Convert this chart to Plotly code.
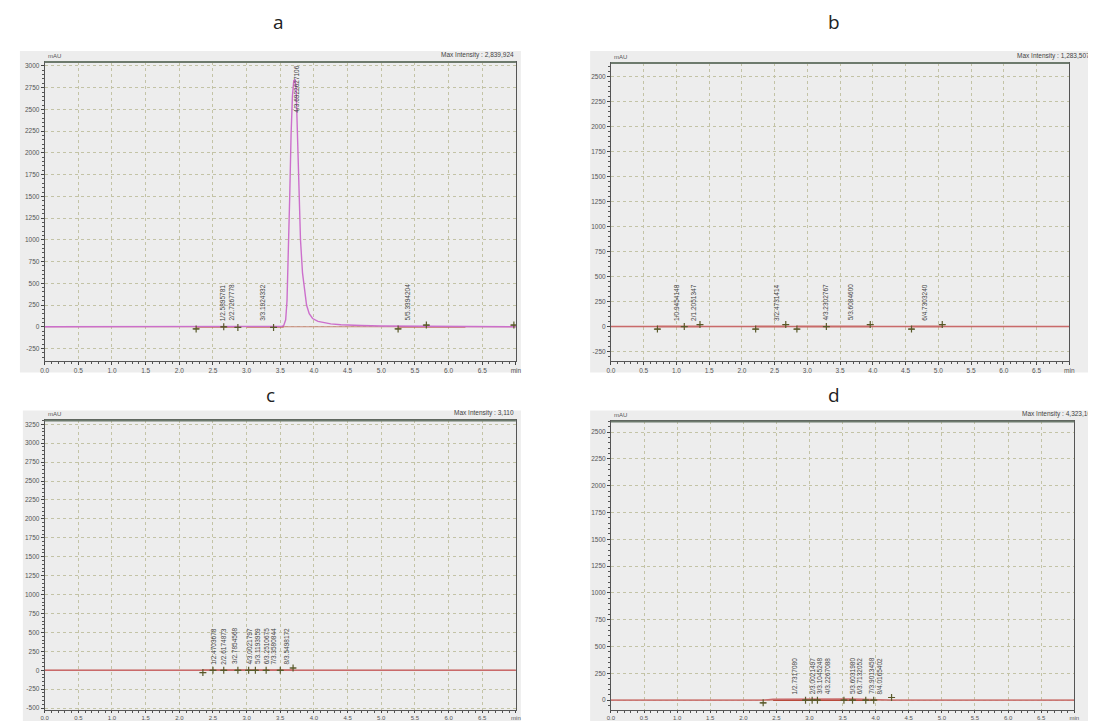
import plotly.graph_objects as go

# ---------------- data ----------------
# panel a
a_time = [0.0, 2.2, 2.6, 3.0, 3.4, 3.52, 3.55, 3.58, 3.60, 3.62, 3.64, 3.66, 3.68, 3.70, 3.72, 3.735,
          3.75, 3.77, 3.80, 3.83, 3.86, 3.89, 3.93, 3.98, 4.06, 4.15, 4.25, 4.40, 4.55, 4.70, 5.0,
          5.5, 6.0, 6.25, 7.0]
a_signal = [0, 0, 1, 2, 3, 5, 12, 80, 300, 800, 1500, 2200, 2650, 2830, 2840, 2750,
            2300, 1700, 1000, 620, 400, 250, 150, 95, 62, 45, 33, 24, 18, 14, 9,
            5, 3, 2, 0]
a_peak_rt = [2.5895781, 2.7267778, 3.1924332, 5.3394204]
a_peak_text = ["1/2.5895781", "2/2.7267778", "3/3.1924332", "5/5.3394204"]
a_top_rt = [3.6922627]
a_top_text = ["4/3.6922627106"]
a_mark_t = [2.25, 2.66, 2.87, 3.40, 5.25, 5.67, 6.97]
a_mark_y = [-25, 0, -8, -8, -25, 20, 20]
a_seg_start = [2.25, 3.0, 5.25]
a_seg_end = [2.87, 3.55, 6.25]

# panel b
b_time = [0.0, 0.7, 1.0, 1.4, 2.2, 2.5, 2.9, 3.3, 3.6, 4.0, 4.6, 4.75, 5.1, 7.0]
b_signal = [0, 0, 4, 1, 0, 5, 2, 6, 4, 1, 0, 4, 1, 0]
b_peak_rt = [0.9454148, 1.2051347, 2.4731414, 3.2302767, 3.6084600, 4.7303240]
b_peak_text = ["1/0.9454148", "2/1.2051347", "3/2.4731414", "4/3.2302767", "5/3.6084600", "6/4.7303240"]
b_mark_t = [0.71, 1.12, 1.36, 2.21, 2.67, 2.84, 3.29, 3.96, 4.59, 5.06]
b_mark_y = [-25, 0, 20, -25, 20, -25, 0, 20, -25, 20]
b_seg_start = [0.71, 2.21, 2.84, 4.59]
b_seg_end = [1.36, 2.67, 3.96, 5.06]

# panel c
c_time = [0.0, 2.35, 2.5, 2.7, 2.9, 3.1, 3.3, 3.5, 3.7, 7.0]
c_signal = [0, 0, 3, 2, 3, 2, 3, 2, 0, 0]
c_peak_rt = [2.4703678, 2.6174873, 2.7854568, 3.0021797, 3.1193959, 3.2510675, 3.3580844, 3.5498172]
c_peak_text = ["1/2.4703678", "2/2.6174873", "3/2.7854568", "4/3.0021797",
               "5/3.1193959", "6/3.2510675", "7/3.3580844", "8/3.5498172"]
c_mark_t = [2.35, 2.50, 2.66, 2.87, 3.03, 3.13, 3.29, 3.50, 3.69]
c_mark_y = [-30, 0, 0, 0, 0, 0, 0, 0, 30]
c_seg_start = [2.35]
c_seg_end = [3.69]

# panel d
d_time = [0.0, 2.3, 2.45, 2.8, 3.1, 3.3, 3.6, 3.8, 4.0, 4.25, 7.0]
d_signal = [0, 0, 8, 10, 12, 10, 11, 9, 8, 0, 0]
d_peak_rt = [2.7317080, 3.0021497, 3.1045248, 3.2267088, 3.6031980, 3.7132052, 3.9013458, 4.0165402]
d_peak_text = ["1/2.7317080", "2/3.0021497", "3/3.1045248", "4/3.2267088",
               "5/3.6031980", "6/3.7132052", "7/3.9013458", "8/4.0165402"]
d_mark_t = [2.30, 2.94, 3.04, 3.12, 3.52, 3.65, 3.85, 3.97, 4.24]
d_mark_y = [-25, 0, 0, 0, 0, 0, 0, 0, 25]
d_seg_start = [2.45]
d_seg_end = [4.00]

x_tickvals = [0.0, 0.5, 1.0, 1.5, 2.0, 2.5, 3.0, 3.5, 4.0, 4.5, 5.0, 5.5, 6.0, 6.5, 7.0]
x_ticktext = ["0.0", "0.5", "1.0", "1.5", "2.0", "2.5", "3.0", "3.5", "4.0", "4.5", "5.0", "5.5", "6.0", "6.5", "min"]
a_yticks = [-250, 0, 250, 500, 750, 1000, 1250, 1500, 1750, 2000, 2250, 2500, 2750, 3000]
b_yticks = [-250, 0, 250, 500, 750, 1000, 1250, 1500, 1750, 2000, 2250, 2500]
c_yticks = [-500, -250, 0, 250, 500, 750, 1000, 1250, 1500, 1750, 2000, 2250, 2500, 2750, 3000, 3250]
d_yticks = [0, 250, 500, 750, 1000, 1250, 1500, 1750, 2000, 2250, 2500]

panel_titles = ["a", "b", "c", "d"]
max_texts = ["Max Intensity : 2,839,924", "Max Intensity : 1,283,507",
             "Max Intensity : 3,110", "Max Intensity : 4,323,108"]

# ---------------- layout geometry (pixels) ----------------
W, H = 1096, 721


def px_x(p):
    return p / W


def px_y(p):
    return 1 - p / H


panels = [
    dict(l=32, r=508, t=54, b=353, yr=[-388, 3046], box=(7, 513, 43, 365), yt=a_yticks, title=(268, 14)),
    dict(l=604, r=1067, t=55, b=353, yr=[-340, 2640], box=(583, 1110, 43, 365), yt=b_yticks, title=(829, 14)),
    dict(l=32, r=508, t=413, b=703, yr=[-525, 3301], box=(10, 513, 403, 730), yt=c_yticks, title=(260, 388)),
    dict(l=604, r=1072, t=414, b=703, yr=[-92, 2600], box=(583, 1110, 403, 730), yt=d_yticks, title=(829, 388)),
]

data_sets = [
    (a_time, a_signal, a_peak_rt, a_peak_text, a_mark_t, a_mark_y, a_seg_start, a_seg_end),
    (b_time, b_signal, b_peak_rt, b_peak_text, b_mark_t, b_mark_y, b_seg_start, b_seg_end),
    (c_time, c_signal, c_peak_rt, c_peak_text, c_mark_t, c_mark_y, c_seg_start, c_seg_end),
    (d_time, d_signal, d_peak_rt, d_peak_text, d_mark_t, d_mark_y, d_seg_start, d_seg_end),
]

fig = go.Figure()
shapes = []
annotations = []
layout = {}

FONT = "Liberation Sans, Arial, sans-serif"

for i, (p, ds) in enumerate(zip(panels, data_sets)):
    n = "" if i == 0 else str(i + 1)
    xa, ya = "x" + n, "y" + n
    t, s, prt, ptxt, mt, my, ss, se = ds
    bottom_row = i >= 2
    tick_font = dict(family=FONT, size=6 if bottom_row else 6.5, color="#555555")

    # outer grey frame
    bl, br, bt, bb = p["box"]
    shapes.append(dict(type="rect", xref="paper", yref="paper", layer="below",
                       x0=px_x(bl), x1=px_x(br), y0=px_y(bb), y1=px_y(bt),
                       fillcolor="#ededed", line=dict(width=0)))
    # darker top border of plot area
    shapes.append(dict(type="line", xref="paper", yref="paper",
                       x0=px_x(p["l"]), x1=px_x(p["r"]), y0=px_y(p["t"]), y1=px_y(p["t"]),
                       line=dict(color="#6d7a6d", width=2)))

    layout["xaxis" + n] = dict(
        domain=[px_x(p["l"]), px_x(p["r"])], anchor=ya, range=[0, 7.0],
        tickvals=x_tickvals, ticktext=x_ticktext, ticks="outside",
        ticklen=2 if bottom_row else 3, ticklabelstandoff=0 if bottom_row else 1,
        tickcolor="#444", tickfont=tick_font, showline=True, linecolor="#555", linewidth=1,
        mirror=True, showgrid=True, gridcolor="#c3c3a6", griddash="dot", gridwidth=1,
        zeroline=False, fixedrange=True,
        minor=dict(dtick=0.1, ticks="outside", ticklen=2, tickcolor="#555", showgrid=False),
    )
    layout["yaxis" + n] = dict(
        domain=[px_y(p["b"]), px_y(p["t"])], anchor=xa, range=p["yr"],
        tickvals=p["yt"], ticktext=[str(v) for v in p["yt"]], ticks="outside", ticklen=3,
        tickcolor="#444", tickfont=dict(family=FONT, size=6.5, color="#555555"),
        showline=True, linecolor="#555", linewidth=1,
        mirror=True, showgrid=True, gridcolor="#c3c3a6", griddash="dot", gridwidth=1,
        zeroline=False, fixedrange=True,
        minor=dict(dtick=50, ticks="outside", ticklen=2, tickcolor="#555", showgrid=False),
    )

    # zero baseline across full width
    fig.add_trace(go.Scatter(x=[0, 7.0], y=[0, 0], mode="lines", xaxis=xa, yaxis=ya,
                             line=dict(color="#c98a7a", width=1), hoverinfo="skip", showlegend=False))
    # integration baselines
    segx, segy = [], []
    for a0, a1 in zip(ss, se):
        segx += [a0, a1, None]
        segy += [0, 0, None]
    fig.add_trace(go.Scatter(x=segx, y=segy, mode="lines", xaxis=xa, yaxis=ya,
                             line=dict(color="#b84a3a", width=1.6), hoverinfo="skip", showlegend=False))
    # signal
    fig.add_trace(go.Scatter(x=t, y=s, mode="lines", xaxis=xa, yaxis=ya,
                             line=dict(color="#cc6fcc" if i == 0 else "#c96a6a", width=1.4),
                             showlegend=False))
    # peak start / end markers
    fig.add_trace(go.Scatter(x=mt, y=my, mode="markers", xaxis=xa, yaxis=ya,
                             marker=dict(symbol="cross-thin", size=5, line=dict(color="#5a5a2a", width=1.2)),
                             hoverinfo="skip", showlegend=False))
    fig.add_trace(go.Scatter(x=mt, y=my, mode="markers", xaxis=xa, yaxis=ya,
                             marker=dict(symbol="line-ew", size=4, line=dict(color="#5a5a2a", width=1)),
                             hoverinfo="skip", showlegend=False))

    # peak labels
    for rt, txt in zip(prt, ptxt):
        annotations.append(dict(x=rt, y=0, xref=xa, yref=ya, text=txt, textangle=-90,
                                showarrow=False, xanchor="center", yanchor="bottom",
                                xshift=3, yshift=4,
                                font=dict(family=FONT, size=6.5, color="#444")))

    # axis captions
    annotations.append(dict(x=px_x(p["l"] + 1), y=px_y(p["t"] - 1), xref="paper", yref="paper",
                            text="mAU", showarrow=False, xanchor="left", yanchor="bottom",
                            font=dict(family=FONT, size=6, color="#555")))
    if i in (0, 2):
        annotations.append(dict(x=px_x(p["r"]), y=px_y(p["t"] - 1), xref="paper", yref="paper",
                                text=max_texts[i], showarrow=False, xanchor="right", yanchor="bottom",
                                font=dict(family=FONT, size=6.5, color="#444")))
    else:
        annotations.append(dict(x=px_x(p["r"] - 55), y=px_y(p["t"] - 1), xref="paper", yref="paper",
                                text=max_texts[i], showarrow=False, xanchor="left", yanchor="bottom",
                                font=dict(family=FONT, size=6.5, color="#444")))
    # panel letter
    tx, ty = p["title"]
    annotations.append(dict(x=px_x(tx), y=px_y(ty), xref="paper", yref="paper", text=panel_titles[i],
                            showarrow=False, xanchor="center", yanchor="middle",
                            font=dict(family="Open Sans, Noto Sans, sans-serif", size=19, color="#222")))

# top peak label of panel a (anchored to the top of the plot)
for rt, txt in zip(a_top_rt, a_top_text):
    annotations.append(dict(x=rt, y=3046, xref="x", yref="y", text=txt, textangle=-90,
                            showarrow=False, xanchor="center", yanchor="top", xshift=3, yshift=-2,
                            font=dict(family=FONT, size=6.5, color="#444")))

fig.update_layout(
    width=W, height=H, margin=dict(l=0, r=0, t=0, b=0),
    paper_bgcolor="white", plot_bgcolor="#fcfcbd",
    shapes=shapes, annotations=annotations, showlegend=False,
    **layout,
)

fig.write_html("out.html")
